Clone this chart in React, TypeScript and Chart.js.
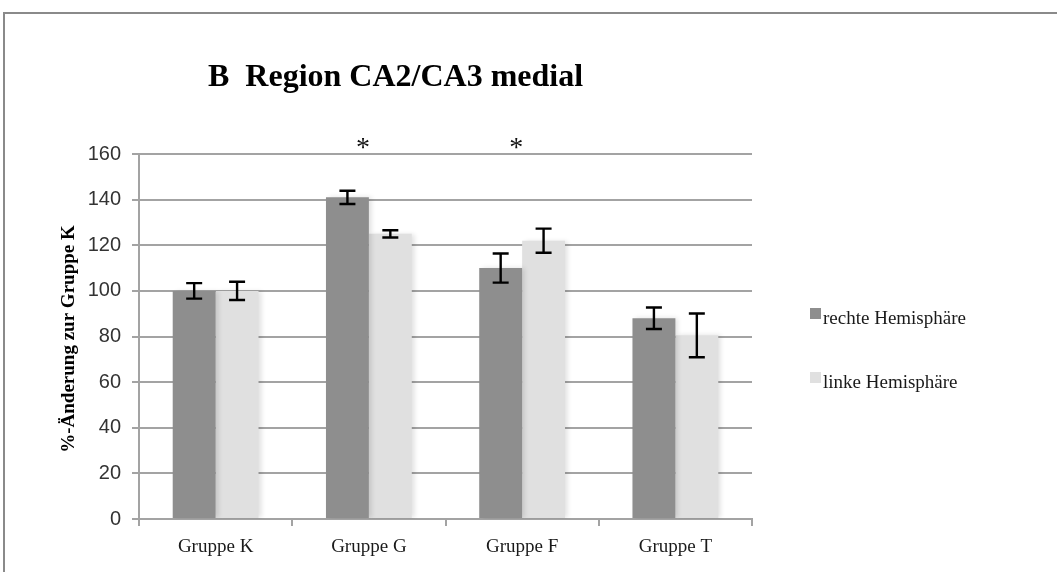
import React, { useEffect, useRef } from "react";
import { Chart, registerables } from "chart.js";

Chart.register(...registerables);

// Values: % change relative to group K, with error (SEM) per bar
const categories = ["Gruppe K", "Gruppe G", "Gruppe F", "Gruppe T"];
const rechteHemisphaere = [100, 141, 110, 88];
const linkeHemisphaere = [100, 125, 122, 80.5];
const rechteFehler = [3.4, 2.9, 6.4, 4.7];
const linkeFehler = [4, 1.6, 5.3, 9.6];
const signifikant = [false, true, true, false];
const seriesNames = ["rechte Hemisphäre", "linke Hemisphäre"];
const yTicks = [0, 20, 40, 60, 80, 100, 120, 140, 160];

const titleText = "B  Region CA2/CA3 medial";
const yTitle = "%-Änderung zur Gruppe K";

const DARK = "#8e8e8e";
const LIGHT = "#e0e0e0";
const GRID = "#a3a3a3";

const W = 1057;
const H = 572;

export default function App() {
  const ref = useRef<HTMLCanvasElement | null>(null);

  useEffect(() => {
    if (!ref.current) return;
    const errors = [rechteFehler, linkeFehler];

    const framePlugin = {
      id: "frame",
      beforeDraw(chart: any) {
        const ctx = chart.ctx;
        ctx.save();
        ctx.fillStyle = "#ffffff";
        ctx.fillRect(0, 0, W, H);
        ctx.strokeStyle = "#8a8a8a";
        ctx.lineWidth = 2;
        ctx.beginPath();
        ctx.moveTo(4, H);
        ctx.lineTo(4, 13);
        ctx.lineTo(W, 13);
        ctx.stroke();
        ctx.restore();
      },
    };

    const shadowPlugin = {
      id: "barShadow",
      beforeDatasetsDraw(chart: any) {
        const ctx = chart.ctx;
        ctx.save();
        ctx.shadowColor = "rgba(0,0,0,0.12)";
        ctx.shadowBlur = 5;
        ctx.shadowOffsetX = 3;
        ctx.shadowOffsetY = 0;
      },
      afterDatasetsDraw(chart: any) {
        chart.ctx.restore();
      },
    };

    const decorPlugin = {
      id: "decor",
      afterDatasetsDraw(chart: any) {
        const ctx = chart.ctx;
        const y = chart.scales.y;
        const x = chart.scales.x;
        ctx.save();
        // error bars
        ctx.strokeStyle = "#000000";
        ctx.lineWidth = 2.4;
        chart.data.datasets.forEach((ds: any, i: number) => {
          const meta = chart.getDatasetMeta(i);
          meta.data.forEach((bar: any, j: number) => {
            const v = ds.data[j];
            const e = errors[i][j];
            const top = y.getPixelForValue(v + e);
            const bot = y.getPixelForValue(v - e);
            const cx = bar.x;
            ctx.beginPath();
            ctx.moveTo(cx, top);
            ctx.lineTo(cx, bot);
            ctx.moveTo(cx - 8, top);
            ctx.lineTo(cx + 8, top);
            ctx.moveTo(cx - 8, bot);
            ctx.lineTo(cx + 8, bot);
            ctx.stroke();
          });
        });
        // significance stars
        ctx.fillStyle = "#111111";
        ctx.font = "28px 'Liberation Serif'";
        ctx.textAlign = "center";
        ctx.textBaseline = "alphabetic";
        signifikant.forEach((s, j) => {
          if (!s) return;
          ctx.fillText("*", x.getPixelForValue(j) - 6, chart.chartArea.top + 2);
        });
        ctx.restore();
      },
      afterDraw(chart: any) {
        const ctx = chart.ctx;
        ctx.save();
        // title
        ctx.fillStyle = "#000000";
        ctx.font = "bold 32px 'Liberation Serif'";
        ctx.textAlign = "left";
        ctx.textBaseline = "alphabetic";
        ctx.fillText(titleText, 208, 86);
        // y axis title
        ctx.save();
        ctx.translate(69, 339);
        ctx.rotate(-Math.PI / 2);
        ctx.font = "bold 19px 'Liberation Serif'";
        ctx.textAlign = "center";
        ctx.textBaseline = "middle";
        ctx.fillText(yTitle, 0, 0);
        ctx.restore();
        // legend
        const colors = [DARK, LIGHT];
        ctx.font = "19px 'Liberation Serif'";
        ctx.textBaseline = "alphabetic";
        seriesNames.forEach((name, i) => {
          const ly = 308 + i * 64;
          ctx.fillStyle = colors[i];
          ctx.fillRect(810, ly, 11, 11);
          ctx.fillStyle = "#1a1a1a";
          ctx.fillText(name, 823, ly + 16);
        });
        ctx.restore();
      },
    };

    const chart = new Chart(ref.current, {
      type: "bar",
      data: {
        labels: categories,
        datasets: [
          {
            label: seriesNames[0],
            data: rechteHemisphaere,
            backgroundColor: DARK,
            barPercentage: 1.0,
            categoryPercentage: 0.56,
          },
          {
            label: seriesNames[1],
            data: linkeHemisphaere,
            backgroundColor: LIGHT,
            barPercentage: 1.0,
            categoryPercentage: 0.56,
          },
        ],
      },
      options: {
        responsive: false,
        animation: false,
        events: [],
        layout: { padding: { top: 154, right: W - 752, left: 0, bottom: 0 } },
        plugins: {
          legend: { display: false },
          title: { display: false },
          tooltip: { enabled: false },
        },
        scales: {
          x: {
            offset: true,
            grid: {
              offset: true,
              drawOnChartArea: false,
              drawTicks: true,
              tickLength: 7,
              color: GRID,
              lineWidth: 2,
            },
            border: { color: GRID, width: 2 },
            ticks: {
              color: "#1a1a1a",
              padding: 10,
              font: { family: "'Liberation Serif'", size: 19 },
            },
            afterFit(scale: any) {
              scale.height = H - 519;
            },
          },
          y: {
            min: 0,
            max: 160,
            afterBuildTicks(scale: any) {
              scale.ticks = yTicks.map((v) => ({ value: v }));
            },
            grid: {
              color: GRID,
              lineWidth: 2,
              tickLength: 7,
            },
            border: { color: GRID, width: 2 },
            ticks: {
              color: "#333333",
              padding: 11,
              font: { family: "'Liberation Sans'", size: 20 },
            },
            afterFit(scale: any) {
              scale.width = 139;
            },
          },
        },
      },
      plugins: [framePlugin, shadowPlugin, decorPlugin],
    });

    return () => chart.destroy();
  }, []);

  return (
    <div style={{ position: "absolute", left: 0, top: 0, width: W, height: H }}>
      <canvas ref={ref} width={W} height={H} style={{ width: W, height: H }} />
    </div>
  );
}
